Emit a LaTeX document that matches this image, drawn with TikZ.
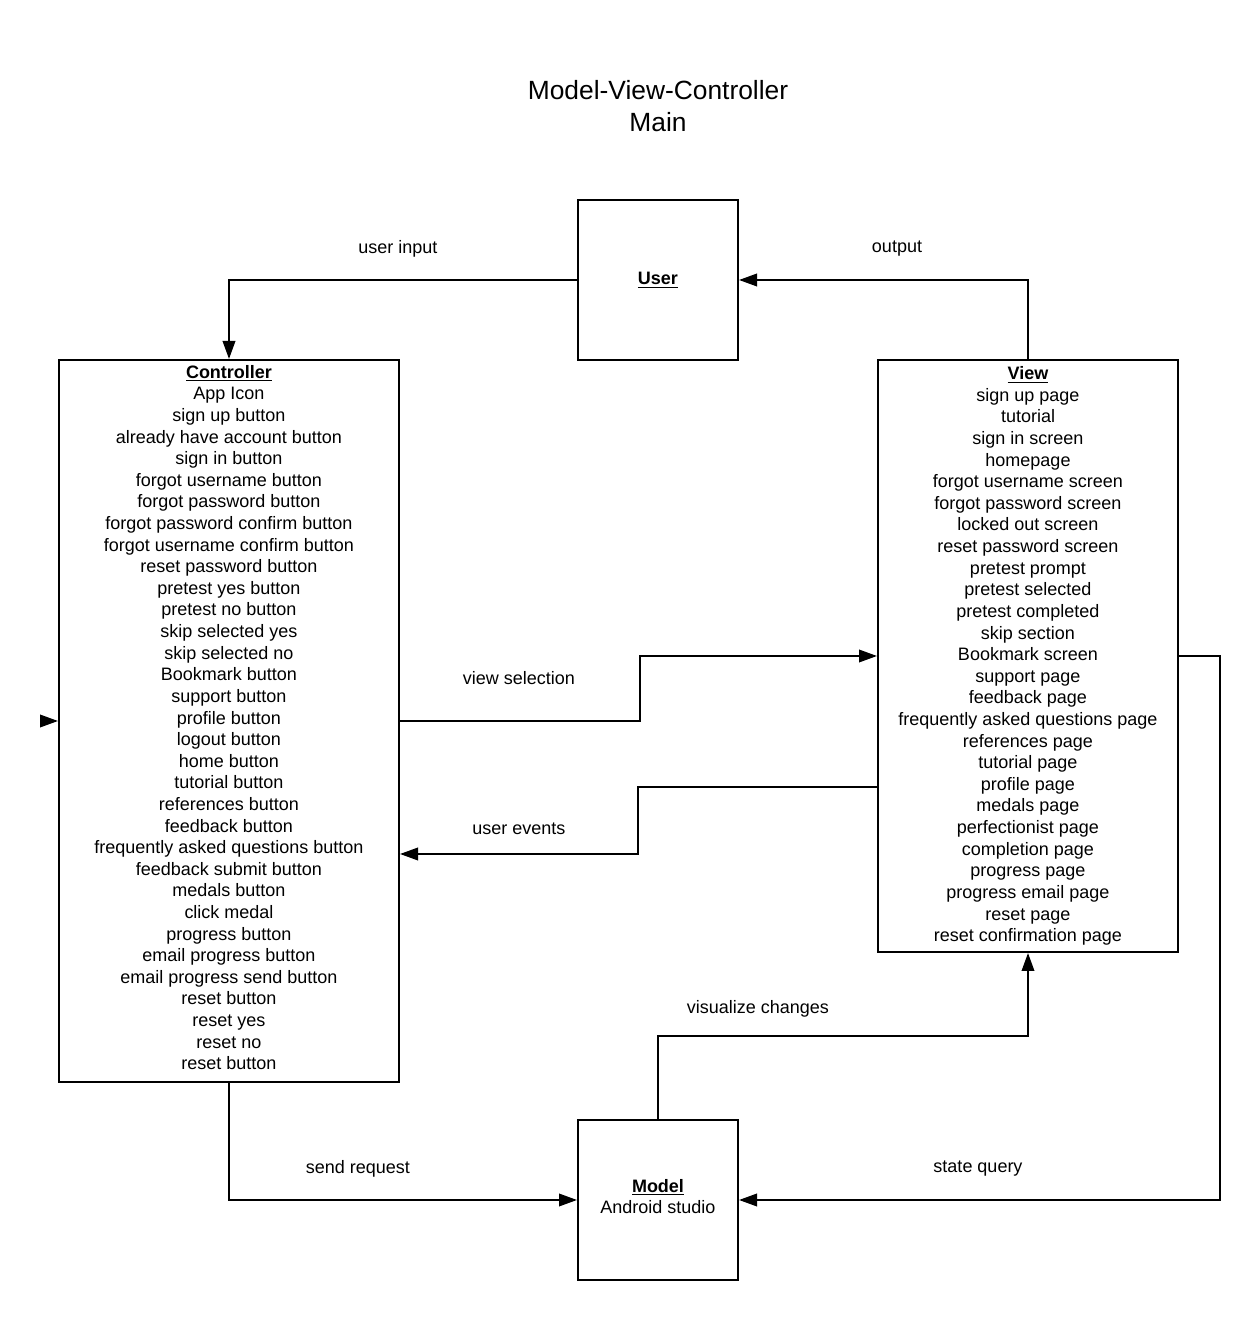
\documentclass[tikz,border=0pt]{standalone}
\usepackage{fontspec}
\setmainfont{Liberation Sans}
\usepackage{xcolor}
\usepackage{tikz}
\usetikzlibrary{arrows.meta, positioning}

\tikzset{
	mvcbox/.style={draw, line width=0.04cm, inner sep=0pt, align=center, font=\fontsize{10.24}{12.3}\selectfont},
	flow/.style={-{Triangle[length=0.36cm, width=0.25cm]}, line width=0.04cm},
	tag/.style={font=\fontsize{10.24}{12.3}\selectfont}
}

\begin{document}
\begin{tikzpicture}
	\useasboundingbox (0, 0) rectangle (25.2, 26.4);
	% Title:
	\node[align=center, font=\fontsize{15}{18.2}\selectfont] (title) at (13.16, 24.28){Model-View-Controller\\Main};
	% Boxes:
	\node[mvcbox, minimum width=3.2cm, minimum height=3.2cm] (user) at (13.16, 20.8){\underline{\textbf{User}}};
	\node[mvcbox, minimum width=3.2cm, minimum height=3.2cm] (model) at (13.16, 2.4){\underline{\textbf{Model}}\\Android studio\rule[-4pt]{0pt}{4pt}};
	\node[mvcbox, minimum width=6.8cm, minimum height=14.44cm] (ctrl) at (4.58, 11.98){\underline{\textbf{Controller}}\\App Icon\\sign up button\\already have account button\\sign in button\\forgot username button\\forgot password button\\forgot password confirm button\\forgot username confirm button\\reset password button\\pretest yes button\\pretest no button\\skip selected yes\\skip selected no\\Bookmark button\\support button\\profile button\\logout button\\home button\\tutorial button\\references button\\feedback button\\frequently asked questions button\\feedback submit button\\medals button\\click medal\\progress button\\email progress button\\email progress send button\\reset button\\reset yes\\reset no\\reset button\rule[-4pt]{0pt}{4pt}};
	\node[mvcbox, minimum width=6cm, minimum height=11.84cm] (view) at (20.56, 13.28){\underline{\textbf{View}}\\sign up page\\tutorial\\sign in screen\\homepage\\forgot username screen\\forgot password screen\\locked out screen\\reset password screen\\pretest prompt\\pretest selected\\pretest completed\\skip section\\Bookmark screen\\support page\\feedback page\\frequently asked questions page\\references page\\tutorial page\\profile page\\medals page\\perfectionist page\\completion page\\progress page\\progress email page\\reset page\\reset confirmation page};
	% Connectors:
	\draw[flow] (user.west) -| (ctrl.north);
	\draw[flow] (view.north) |- (user.east);
	\draw[flow] (ctrl.east) -- ++(4.8, 0) |- (view.west);
	\draw[flow] ([yshift=-2.62cm]view.west) -- ++(-4.78, 0) |- ([yshift=-2.66cm]ctrl.east);
	\draw[flow] (ctrl.south) |- (model.west);
	\draw[flow] (model.north) -- ++(0, 1.66) -| (view.south);
	\draw[flow] (view.east) -- ++(0.82, 0) |- (model.east);
	\coordinate (stub) at (0.82, 11.98);
	\draw[flow] (stub) -- (ctrl.west);
	% Labels:
	\node[tag] (l1) at (7.96, 21.42){user input};
	\node[tag] (l2) at (17.94, 21.42){output};
	\node[tag] (l3) at (10.38, 12.84){view selection};
	\node[tag] (l4) at (10.38, 9.82){user events};
	\node[tag] (l5) at (7.16, 3.02){send request};
	\node[tag] (l6) at (15.16, 6.22){visualize changes};
	\node[tag] (l7) at (19.56, 3.02){state query};
\end{tikzpicture}
\end{document}
